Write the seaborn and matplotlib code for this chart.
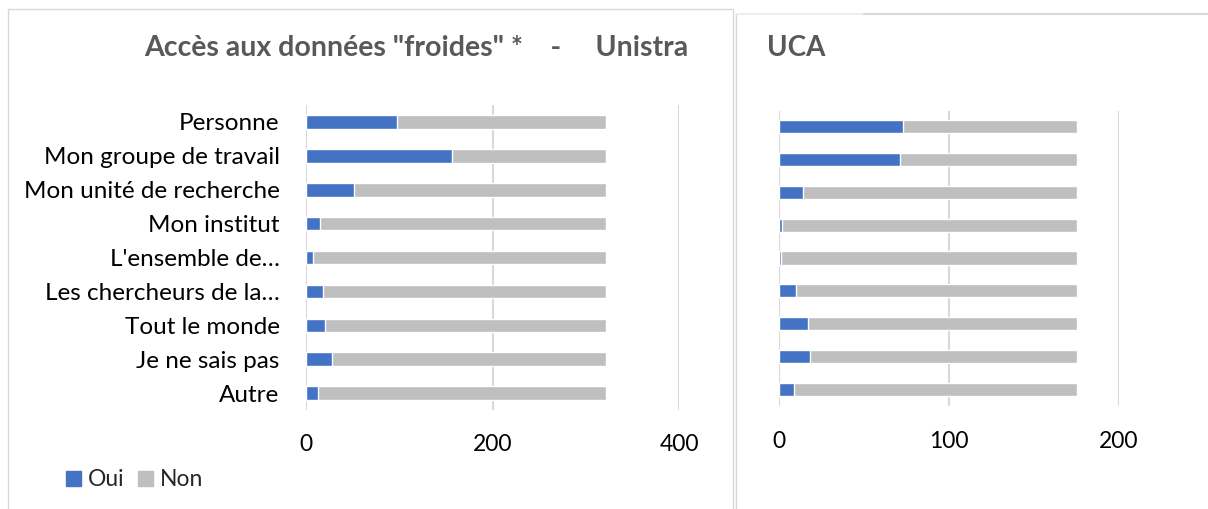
import pandas as pd
import seaborn as sns
import matplotlib.pyplot as plt
from matplotlib.patches import Patch
from matplotlib.lines import Line2D

sns.set_theme(style="white")
plt.rcParams["font.family"] = ["Lato", "DejaVu Sans"]

# data
categories = ["Personne", "Mon groupe de travail", "Mon unité de recherche",
              "Mon institut", "L'ensemble de…", "Les chercheurs de la…",
              "Tout le monde", "Je ne sais pas", "Autre"]
unistra_oui = [98, 157, 52, 15, 7, 18, 20, 28, 13]
unistra_non = [224, 165, 270, 307, 315, 304, 302, 294, 309]
uca_oui = [73, 71, 14, 2, 1, 10, 17, 18, 9]
uca_non = [102, 104, 161, 173, 174, 165, 158, 157, 166]
unistra_ticks = [0, 200, 400]
uca_ticks = [0, 100, 200]

blue = "#4472C4"
grey = "#BFBFBF"
gridc = "#D9D9D9"

W, H = 1208, 509
fig = plt.figure(figsize=(W / 100, H / 100), dpi=100)

# panel frames
fig.add_artist(plt.Rectangle((8 / W, -0.1), 725 / W, 1.1 - 9 / H, transform=fig.transFigure,
                             fill=False, edgecolor="#D9D9D9", linewidth=1))
fig.add_artist(Line2D([736 / W, 736 / W], [0, 1 - 14 / H], transform=fig.transFigure,
                      color="#D9D9D9", linewidth=1))
fig.add_artist(Line2D([736 / W, 864 / W], [1 - 14 / H, 1 - 14 / H], transform=fig.transFigure,
                      color="#EEEEEE", linewidth=1.5))
fig.add_artist(Line2D([864 / W, 1], [1 - 14 / H, 1 - 14 / H], transform=fig.transFigure,
                      color="#D9D9D9", linewidth=1.5))

ax1 = fig.add_axes([306 / W, 1 - 410 / H, 373 / W, 305 / H])
ax2 = fig.add_axes([779 / W, 1 - 405.5 / H, 340 / W, 295 / H])


def draw(ax, oui, non, ticks, show_labels):
    df = pd.DataFrame({"cat": categories, "oui": oui, "non": non})
    df["total"] = df["oui"] + df["non"]
    sns.barplot(data=df, y="cat", x="total", color=grey, width=0.4, saturation=1, ax=ax,
                zorder=2)
    sns.barplot(data=df, y="cat", x="oui", color=blue, width=0.4, saturation=1, ax=ax,
                zorder=3)
    ax.set_xlim(ticks[0], ticks[-1])
    ax.set_xticks(ticks)
    ax.set_ylim(8.5, -0.5)
    ax.grid(axis="x", color=gridc, linewidth=1.5, zorder=0)
    ax.set_axisbelow(True)
    for s in ax.spines.values():
        s.set_visible(False)
    ax.set_xlabel("")
    ax.set_ylabel("")
    ax.tick_params(axis="x", length=0, labelsize=16.5, pad=17, colors="black")
    ax.tick_params(axis="y", length=0, labelsize=17.5, pad=19, colors="black")
    if not show_labels:
        ax.set_yticklabels([])


draw(ax1, unistra_oui, unistra_non, unistra_ticks, True)
draw(ax2, uca_oui, uca_non, uca_ticks, False)
ax2.tick_params(axis="x", pad=18)

fig.text(416 / W, 1 - 48 / H, 'Accès aux données "froides" *    -     Unistra', ha="center",
         va="center", fontsize=20.5, fontweight="bold", color="#595959")
fig.text(767 / W, 1 - 48 / H, "UCA", ha="left", va="center", fontsize=20,
         fontweight="bold", color="#595959")

handles = [Patch(color=blue, label="Oui"), Patch(color=grey, label="Non")]
fig.legend(handles=handles, loc="center left", bbox_to_anchor=(45 / W, 1 - 480 / H),
           ncol=2, frameon=False, fontsize=16.5, handlelength=0.65, handleheight=0.65,
           handletextpad=0.3, columnspacing=0.6)

fig.savefig("out.png", dpi=100)
